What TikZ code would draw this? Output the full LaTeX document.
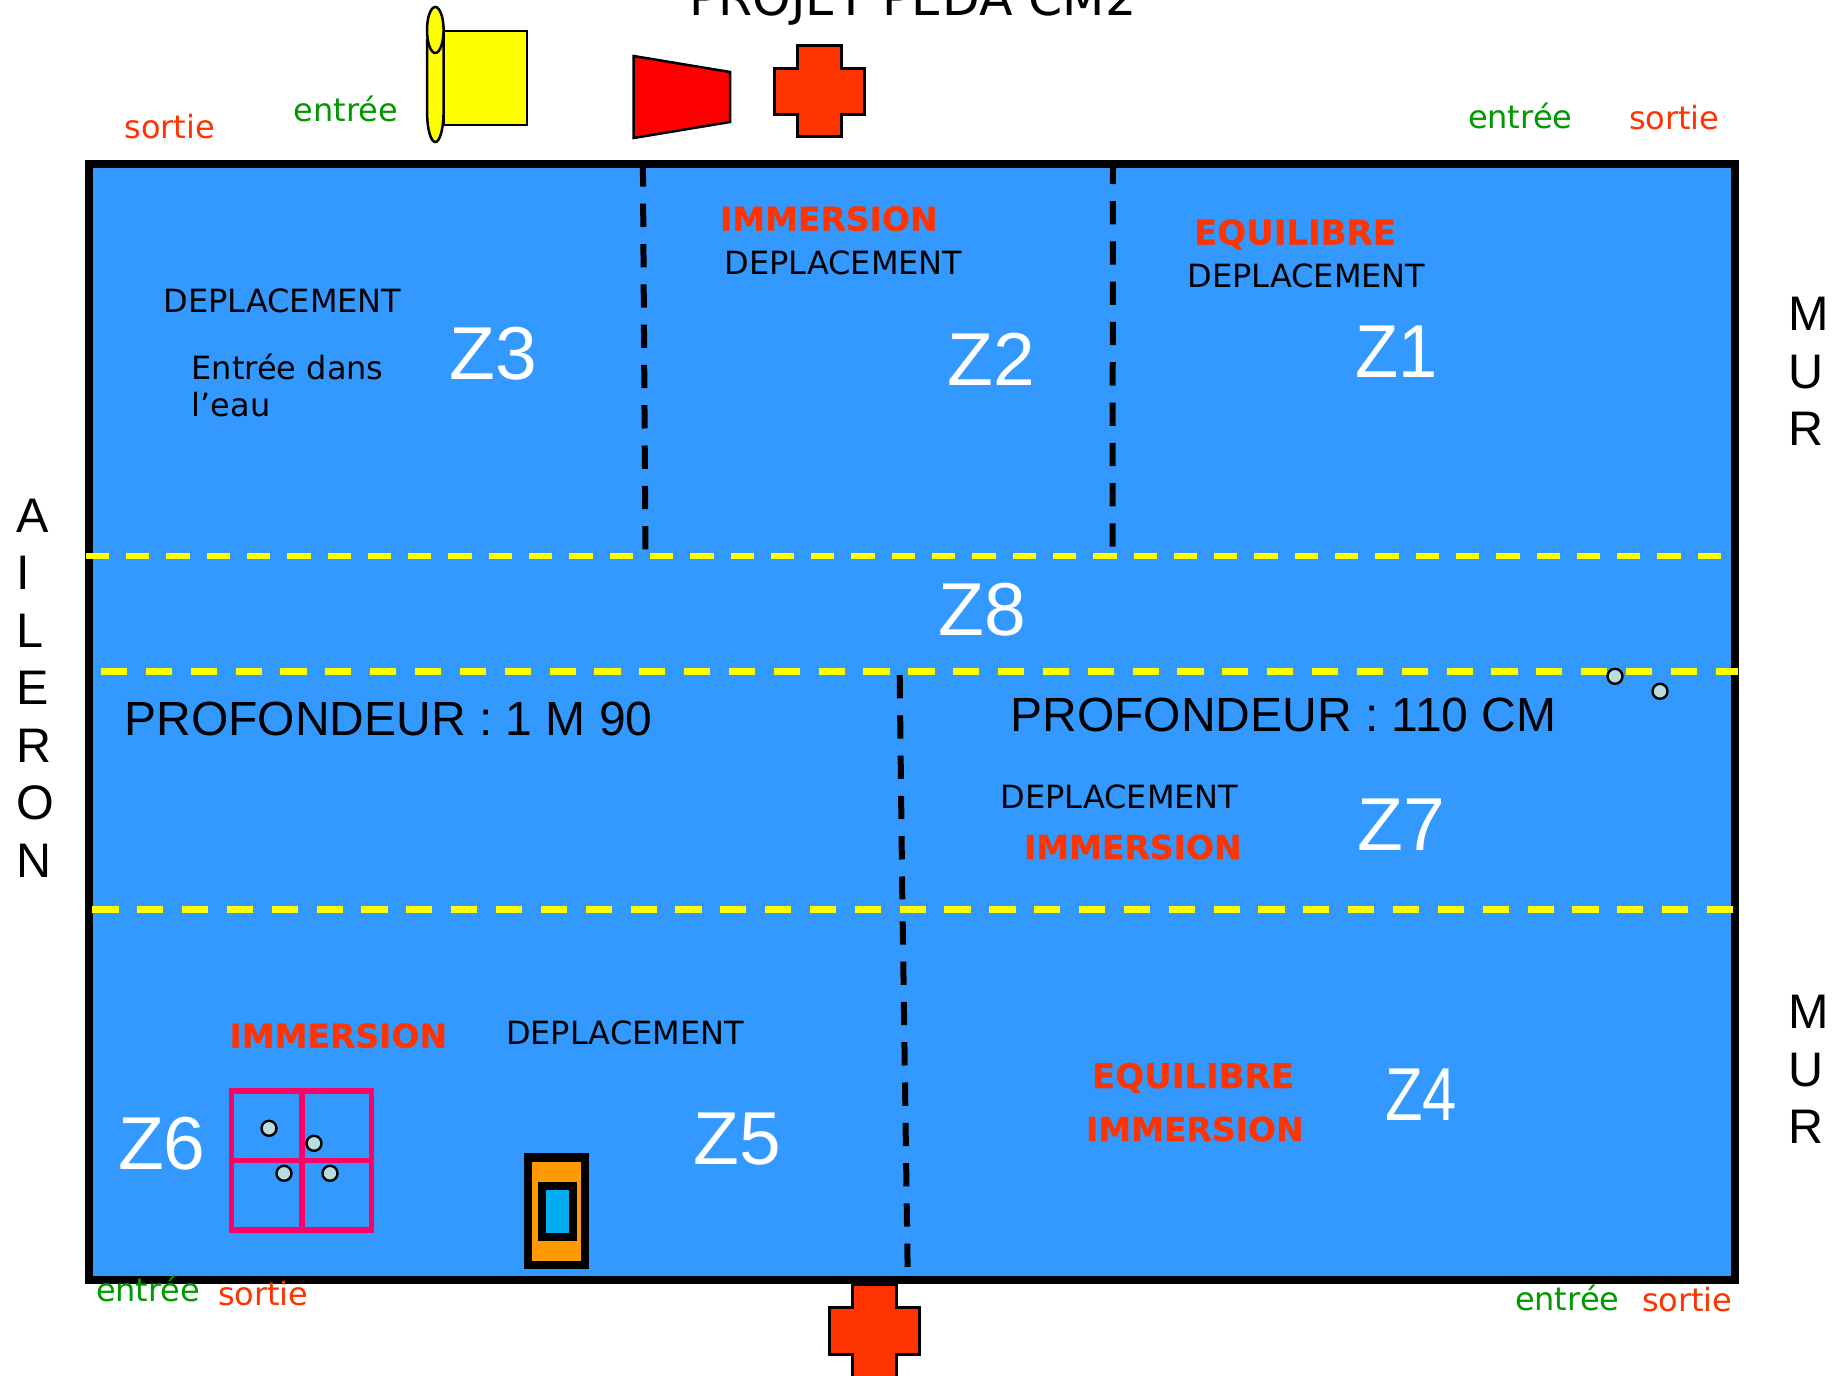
\documentclass[tikz,border=0pt]{standalone}
\usepackage{fontspec}
\setmainfont{DejaVu Sans}
\newfontfamily\arialf{Liberation Sans}
\newfontfamily\heavyf[FakeBold=0.6]{DejaVu Sans Bold}
\definecolor{poolblue}{HTML}{3399FF}
\definecolor{hotred}{HTML}{FF3300}
\definecolor{entgreen}{HTML}{009900}
\definecolor{gridpink}{HTML}{FF0066}
\definecolor{dotfill}{HTML}{B8DEE0}
\definecolor{lanorange}{HTML}{FF9900}
\definecolor{lanblue}{HTML}{00AEEF}
\definecolor{pureyellow}{HTML}{FFFF00}
\definecolor{purered}{HTML}{FF0000}
\tikzset{
  lbl/.style={anchor=base west,inner sep=0pt,outer sep=0pt},
  deplace/.style={lbl,black,font=\fontsize{32}{40}\selectfont},
  redword/.style={lbl,hotred,font=\heavyf\fontsize{33}{40}\selectfont},
  redwide/.style={lbl,hotred,font=\heavyf\fontsize{34}{40}\selectfont},
  exitword/.style={lbl,hotred,font=\fontsize{32}{40}\selectfont},
  enterword/.style={lbl,entgreen,font=\fontsize{32}{40}\selectfont},
  zone/.style={lbl,white,font=\arialf\fontsize{75}{80}\selectfont},
  depth/.style={lbl,black,font=\arialf\fontsize{48}{56}\selectfont},
  wall/.style={anchor=north west,inner sep=0pt,outer sep=0pt,align=left,black,font=\arialf\fontsize{48.5}{57.5}\selectfont},
  yshort/.style={draw=pureyellow,line width=6pt,dash pattern=on 23.3pt off 17pt},
  ylong/.style={draw=pureyellow,line width=6.8pt,dash pattern=on 26.2pt off 18.65pt},
  kline/.style={draw=black,line width=6pt,dash pattern=on 23.3pt off 17pt},
  crossbox/.style={draw=black,line width=3pt,fill=hotred,miter limit=10},
  dot/.style={draw=black,line width=2.4pt,fill=dotfill},
}
\begin{document}
\begin{tikzpicture}[x=1pt,y=-1pt]
\clip (0,0) rectangle (1842,1376);
\fill[white] (0,0) rectangle (1842,1376);
% pool
\draw[black,line width=8pt,fill=poolblue] (89,164) rectangle (1734.5,1280);
% dashed zones
\draw[kline] (642.9,163.4) -- (645.4,549.5);
\draw[kline] (1113,160.7) -- (1112.5,547.5);
\draw[kline] (899.7,675) -- (902.3,899.3);
\draw[kline] (902.7,921.3) -- (907.6,1267);
\draw[yshort] (85.7,556) -- (1722,556);
\draw[ylong] (101,671.3) -- (1738,671.3);
\draw[ylong] (92.3,909.3) -- (1732.7,909.3);
% top equipment
\draw[black,line width=2.5pt,fill=pureyellow] (443.6,31) rectangle (527,125);
\draw[black,line width=2.5pt,fill=pureyellow] (427,40) -- (427,110) .. controls (427,130) and (431,142) .. (435.3,142) .. controls (439.6,142) and (443.6,130) .. (443.6,110) -- (443.6,40) -- cycle;
\draw[black,line width=2.5pt,fill=pureyellow] (435.3,30) ellipse [x radius=8.3,y radius=23];
\draw[black,line width=2.5pt,fill=purered] (633.6,56) -- (730,72) -- (730,122) -- (633.6,138) -- cycle;
\draw[crossbox] (797.5,45.5) -- (841.8,45.5) -- (841.8,68) -- (864.3,68) -- (864.3,114) -- (841.8,114) -- (841.8,136) -- (797.5,136) -- (797.5,114) -- (774.4,114) -- (774.4,68) -- (797.5,68) -- cycle;
% bottom cross
\draw[crossbox] (852.5,1284) -- (896.2,1284) -- (896.2,1307.8) -- (919.3,1307.8) -- (919.3,1354.2) -- (896.2,1354.2) -- (896.2,1385) -- (852.5,1385) -- (852.5,1354.2) -- (829.7,1354.2) -- (829.7,1307.8) -- (852.5,1307.8) -- cycle;
% grid
\draw[gridpink,line width=5.5pt] (231.7,1091) rectangle (371.5,1230);
\draw[gridpink,line width=5.5pt] (302,1091) -- (302,1230);
\draw[gridpink,line width=5.5pt] (231.7,1160.7) -- (371.5,1160.7);
\draw[dot] (269,1128.3) circle [radius=7.5];
\draw[dot] (314,1143.3) circle [radius=7.5];
\draw[dot] (284,1173.3) circle [radius=7.5];
\draw[dot] (330,1173.3) circle [radius=7.5];
\draw[dot] (1615,676.3) circle [radius=7.5];
\draw[dot] (1660,691.3) circle [radius=7.5];
% box
\draw[black,line width=8.5pt,fill=lanorange] (528,1157.5) rectangle (585,1265);
\draw[black,line width=8pt,fill=lanblue] (542.3,1186.3) rectangle (572.6,1237);
% texts
\node[lbl,black,font=\fontsize{49}{56}\selectfont] (title) at (689,15) {PROJET PEDA CM2};
\node[exitword] (s1) at (124.5,138.6) {sortie};
\node[enterword] (e1) at (293.7,121) {entrée};
\node[enterword] (e2) at (1468,128) {entrée};
\node[exitword] (s2) at (1629,129) {sortie};
\node[enterword] (e3) at (96,1301) {entrée};
\node[exitword] (s3) at (218,1305) {sortie};
\node[enterword] (e4) at (1515,1310) {entrée};
\node[exitword] (s4) at (1642,1311.5) {sortie};
\node[redword] (im2) at (720,230.7) {IMMERSION};
\node[redwide] (eq1) at (1194,244.5) {EQUILIBRE};
\node[deplace] (d2) at (724.5,274.5) {DEPLACEMENT};
\node[deplace] (d1) at (1187.5,287) {DEPLACEMENT};
\node[deplace] (d3) at (163.5,312.5) {DEPLACEMENT};
\node[anchor=north west,inner sep=0pt,align=left,font=\fontsize{32}{37.5}\selectfont] (eau) at (191.5,353.5) {Entrée dans\\l’eau};
\node[deplace] (d7) at (1000.5,808) {DEPLACEMENT};
\node[redword] (im7) at (1024,859) {IMMERSION};
\node[deplace] (d5) at (506,1044) {DEPLACEMENT};
\node[redword] (im6) at (229.5,1047.7) {IMMERSION};
\node[redwide] (eq4) at (1092,1088) {EQUILIBRE};
\node[redword] (im4) at (1086,1141) {IMMERSION};
\node[zone] (z3) at (449.5,379.4) {Z3};
\node[zone] (z2) at (947.5,385.5) {Z2};
\node[zone,xscale=.94] (z1) at (1355.6,377) {Z1};
\node[zone] (z8) at (938.5,635.5) {Z8};
\node[zone] (z7) at (1357.5,850) {Z7};
\node[zone,xscale=.82] (z4) at (1385,1120) {Z4};
\node[zone] (z5) at (693.5,1164) {Z5};
\node[zone] (z6) at (118,1169) {Z6};
\node[depth] (p1) at (124.5,735) {PROFONDEUR : 1 M 90};
\node[depth] (p2) at (1010.5,731.5) {PROFONDEUR : 110 CM};
\node[wall] (ail) at (16.5,499) {A\\I\\L\\E\\R\\O\\N};
\node[wall] (m1) at (1788,297.5) {M\\U\\R};
\node[wall] (m2) at (1788,995.5) {M\\U\\R};
\end{tikzpicture}
\end{document}
